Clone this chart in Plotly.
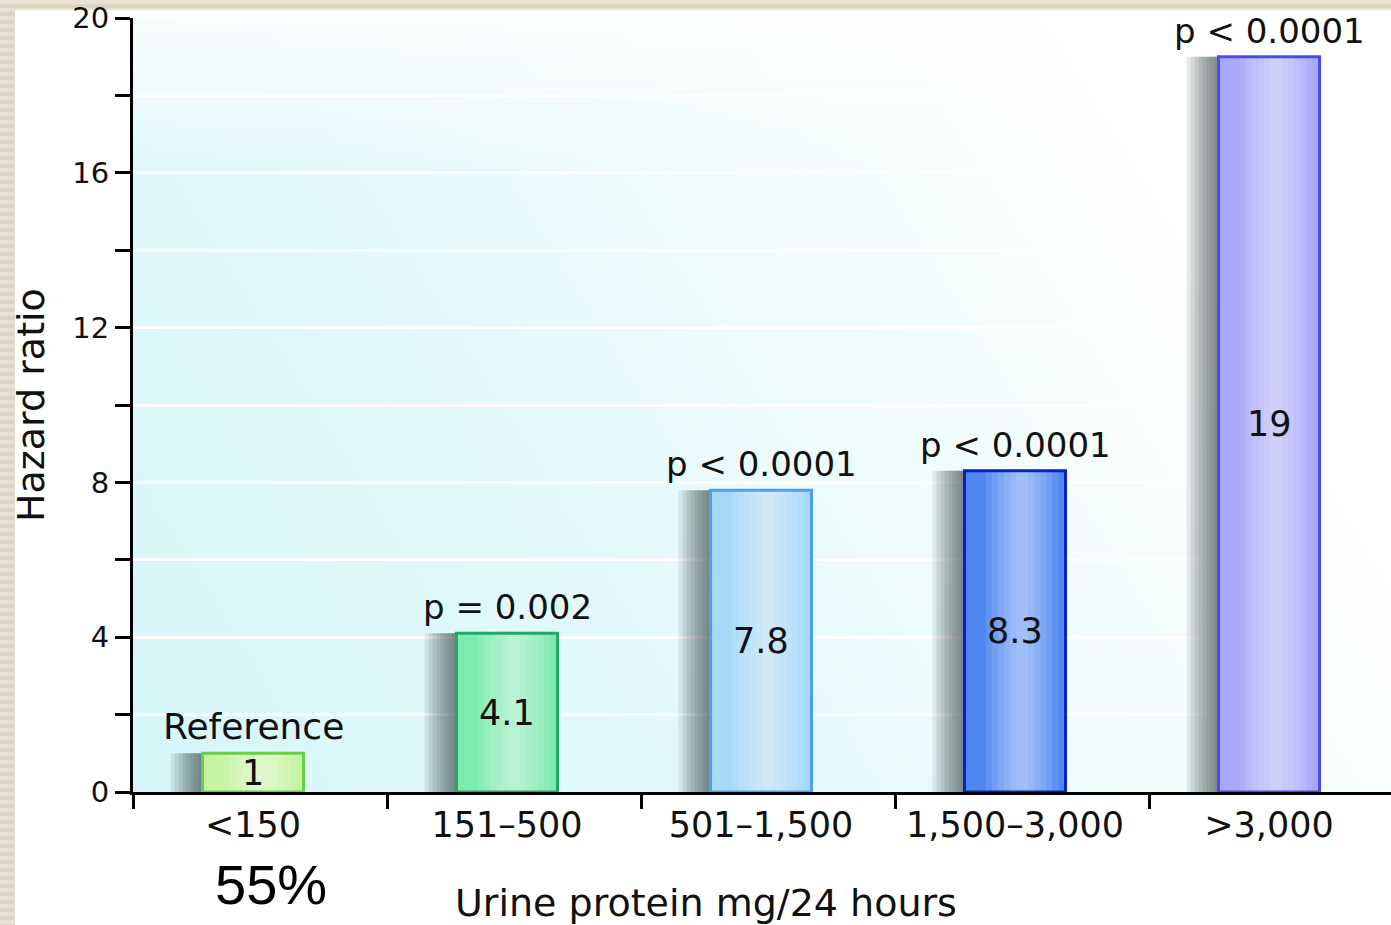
import base64
import plotly.graph_objects as go

# Data
categories = ["<150", "151–500", "501–1,500", "1,500–3,000", ">3,000"]
hazard_ratio = [1, 4.1, 7.8, 8.3, 19]
value_labels = ["1", "4.1", "7.8", "8.3", "19"]
p_labels = ["Reference", "p = 0.002", "p < 0.0001", "p < 0.0001", "p < 0.0001"]
y_tick_values = [0, 4, 8, 12, 16, 20]
x_title = "Urine protein mg/24 hours"
y_title = "Hazard ratio"
share_label = "55%"

# Styles
fill_colors = ["#c6f3a2", "#7debad", "#a6d8f9", "#4f87f1", "#a8a8fa"]
edge_colors = ["#6acf48", "#22a86a", "#4d9ef7", "#0a1ec6", "#4848f4"]
label_sizes = [36, 34, 34, 34, 34]
FONT = "DejaVu Sans"
W_PX, H_PX = 1391, 925
L, R, T, B = 133, 0, 18, 133
plot_w = W_PX - L - R
plot_h = H_PX - T - B
slot_px = 254.0
bar_w = 101 / slot_px
bar_left = -7 / slot_px - bar_w / 2


def px_x(px):
    return (px - L) / plot_w


def px_y(py):
    return (T + plot_h - py) / plot_h


# Background: striped frame, white panel, soft cyan wash behind the plot area
bg_svg = f"""<svg xmlns="http://www.w3.org/2000/svg" width="{W_PX}" height="{H_PX}" viewBox="0 0 {W_PX} {H_PX}" preserveAspectRatio="none">
<defs>
<pattern id="stripes" width="8" height="8" patternUnits="userSpaceOnUse">
<rect width="8" height="8" fill="#e8e1d3"/>
<rect y="4" width="8" height="4" fill="#ddd5c4"/>
</pattern>
<linearGradient id="wash" gradientUnits="userSpaceOnUse" x1="{L}" y1="{T + plot_h}" x2="{W_PX}" y2="{T}">
<stop offset="0" stop-color="#d6f6f9"/>
<stop offset="0.35" stop-color="#e3f9fb"/>
<stop offset="0.62" stop-color="#f3fdfd"/>
<stop offset="0.8" stop-color="#ffffff"/>
<stop offset="1" stop-color="#ffffff"/>
</linearGradient>
<linearGradient id="topfade" gradientUnits="userSpaceOnUse" x1="0" y1="{T}" x2="0" y2="{T + 160}">
<stop offset="0" stop-color="#ffffff" stop-opacity="0.8"/>
<stop offset="1" stop-color="#ffffff" stop-opacity="0"/>
</linearGradient>
</defs>
<rect width="{W_PX}" height="{H_PX}" fill="url(#stripes)"/>
<rect x="15" y="10" width="{W_PX - 15}" height="{H_PX - 10}" fill="#ffffff"/>
<rect x="{L}" y="{T}" width="{plot_w}" height="{plot_h}" fill="url(#wash)"/>
<rect x="{L}" y="{T}" width="{plot_w}" height="{plot_h}" fill="url(#topfade)"/>
</svg>"""
bg_uri = "data:image/svg+xml;base64," + base64.b64encode(bg_svg.encode()).decode()

fig = go.Figure()

# Soft drop shadows on the left side of each bar
for s in [32, 28, 24, 20, 16, 12, 8, 4]:
    w = s / slot_px
    fig.add_trace(go.Bar(
        x=categories, y=hazard_ratio, width=w, offset=bar_left - w,
        marker=dict(color="rgba(38,58,58,0.1)", line=dict(width=0)),
        hoverinfo="skip", showlegend=False,
    ))

# Bar fills
fig.add_trace(go.Bar(
    x=categories, y=hazard_ratio, width=bar_w, offset=bar_left,
    marker=dict(color=fill_colors, line=dict(width=0)),
    hoverinfo="skip", showlegend=False,
))

# Glossy highlight band inside the bars
for f in [0.72, 0.6, 0.48, 0.36, 0.24, 0.12]:
    w = f * bar_w
    fig.add_trace(go.Bar(
        x=categories, y=hazard_ratio, width=w,
        offset=bar_left + 0.57 * bar_w - w / 2,
        marker=dict(color="rgba(255,255,255,0.1)", line=dict(width=0)),
        hoverinfo="skip", showlegend=False,
    ))

# Bar outlines
fig.add_trace(go.Bar(
    x=categories, y=hazard_ratio, width=bar_w, offset=bar_left,
    marker=dict(color="rgba(0,0,0,0)", line=dict(color=edge_colors, width=3)),
    hoverinfo="skip", showlegend=False,
))

annotations = []
for cat, v, vl, pl, ls in zip(categories, hazard_ratio, value_labels, p_labels, label_sizes):
    annotations.append(dict(
        x=cat, y=v / 2, xref="x", yref="y", text=vl, showarrow=False,
        xshift=-7, xanchor="center", yanchor="middle",
        font=dict(family=FONT, size=35, color="#111111"),
    ))
    annotations.append(dict(
        x=cat, y=v, xref="x", yref="y", text=pl, showarrow=False,
        xshift=-7, yshift=4, xanchor="center", yanchor="bottom",
        font=dict(family=FONT, size=ls, color="#111111"),
    ))

annotations.append(dict(
    x=px_x(706), y=px_y(903), xref="paper", yref="paper",
    xanchor="center", yanchor="middle",
    text=x_title, showarrow=False, font=dict(family=FONT, size=38, color="#111111"),
))
annotations.append(dict(
    x=px_x(31), y=px_y(405), xref="paper", yref="paper", textangle=-90,
    xanchor="center", yanchor="middle",
    text=y_title, showarrow=False, font=dict(family=FONT, size=38, color="#111111"),
))
annotations.append(dict(
    x=px_x(271), y=px_y(884), xref="paper", yref="paper",
    xanchor="center", yanchor="middle",
    text=share_label, showarrow=False,
    font=dict(family="Liberation Sans", size=56, color="#000000"),
))

fig.update_layout(
    width=W_PX, height=H_PX,
    margin=dict(l=L, r=R, t=T, b=B, pad=0),
    paper_bgcolor="#e4ddcf",
    plot_bgcolor="rgba(0,0,0,0)",
    barmode="overlay",
    showlegend=False,
    annotations=annotations,
    images=[dict(
        source=bg_uri, xref="paper", yref="paper",
        x=-L / plot_w, y=1 + T / plot_h,
        sizex=W_PX / plot_w, sizey=H_PX / plot_h,
        xanchor="left", yanchor="top", sizing="stretch", layer="below",
    )],
    xaxis=dict(
        type="category", categoryorder="array", categoryarray=categories,
        range=[-0.5, -0.5 + plot_w / slot_px],
        tickson="boundaries", ticks="outside", ticklen=14, tickwidth=3,
        tickcolor="#000000", showline=True, linewidth=3, linecolor="#000000",
        showgrid=False, ticklabelshift=-7,
        tickfont=dict(family=FONT, size=35, color="#111111"),
        fixedrange=True,
    ),
    yaxis=dict(
        range=[0, 20], tickvals=y_tick_values, ticks="outside", ticklen=15,
        tickwidth=3, tickcolor="#000000", showline=True, linewidth=3,
        linecolor="#000000", showgrid=True, gridcolor="#ffffff", gridwidth=3,
        zeroline=False,
        minor=dict(dtick=2, ticks="outside", ticklen=15, tickwidth=3,
                   tickcolor="#000000", showgrid=True, gridcolor="#ffffff",
                   gridwidth=3),
        tickfont=dict(family=FONT, size=29, color="#111111"),
        fixedrange=True,
    ),
)

fig.write_html("out.html", config={"displayModeBar": False})
